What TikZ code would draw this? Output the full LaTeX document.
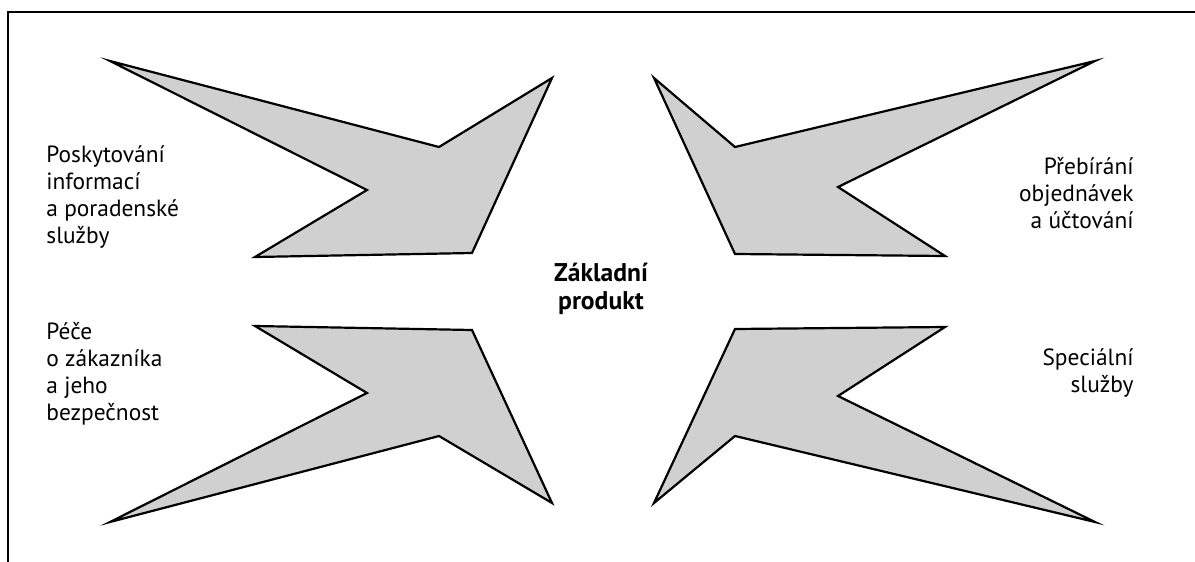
\documentclass[tikz,border=0pt]{standalone}
\usepackage{fontspec}
\setmainfont{PT Sans}
\definecolor{shapegray}{HTML}{D0D0D0}
\begin{document}
\begin{tikzpicture}[x=0.5pt,y=-0.5pt,
  arrowshape/.style={draw=black, fill=shapegray, line width=1.1pt, line join=miter},
  lbl/.style={font=\fontsize{11.7}{13.5}\selectfont, inner sep=0pt},
  ctr/.style={font=\bfseries\fontsize{12.8}{14}\selectfont, inner sep=0pt, align=center},
  frame/.style={draw=black, line width=1pt}]
\useasboundingbox (0,0) rectangle (1195,562);
% frame
\draw[frame] (8,562) -- (8,12) -- (1195,12);
% shapes
\draw[arrowshape] (110,61) -- (439,147) -- (552,78) -- (472,253) -- (255,257) -- (367,190) -- cycle;
\draw[arrowshape] (1095,61) -- (735,147) -- (654,78) -- (735,254) -- (945,256) -- (838,187) -- cycle;
\draw[arrowshape] (110,522) -- (439,436) -- (552,503) -- (472,330) -- (255,326) -- (367,393) -- cycle;
\draw[arrowshape] (1095,522) -- (735,436) -- (654,503) -- (735,329) -- (945,327) -- (838,396) -- cycle;
% labels
\node[lbl, anchor=west, align=left] (t1) at (46,197) {Poskytování\\informací\\a poradenské\\služby};
\node[lbl, anchor=west, align=left] (t2) at (46,374) {Péče\\o zákazníka\\a jeho\\bezpečnost};
\node[lbl, anchor=east, align=right] (t3) at (1134,193) {Přebírání\\objednávek\\a účtování};
\node[lbl, anchor=east, align=right] (t4) at (1134,373) {Speciální\\služby};
\node[ctr] (c) at (601,289) {Základní\\produkt};
\end{tikzpicture}
\end{document}
